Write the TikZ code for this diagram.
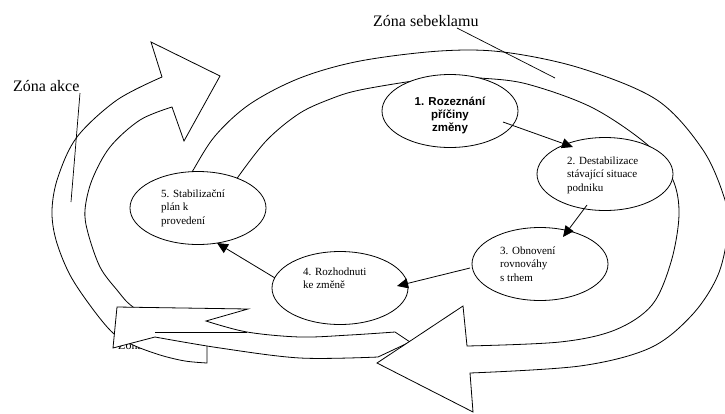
\documentclass[tikz,border=0pt]{standalone}
\usepackage{fontspec}
\setmainfont{Liberation Serif}
\newfontfamily\sansf{Liberation Sans}
\usetikzlibrary{shapes.geometric,arrows.meta}
\begin{document}
\begin{tikzpicture}[x=1pt,y=-1pt,
  band/.style={draw=black, line width=0.8pt, fill=white, line join=miter},
  thin/.style={draw=black, line width=0.8pt},
  stage/.style={ellipse, draw=black, line width=0.8pt, fill=white, minimum width=136pt, minimum height=73pt, inner sep=0pt},
  stagetxt/.style={font=\fontsize{11}{13.3}\selectfont, align=left, anchor=base west, inner sep=0pt},
  flow/.style={line width=0.8pt, -{Triangle[length=11pt,width=10pt]}},
  zone/.style={font=\fontsize{16}{19}\selectfont, anchor=base west, inner sep=0pt},
  leader/.style={line width=0.7pt}]
\useasboundingbox (0,0) rectangle (725,413);
\clip (0,0) rectangle (725,413);

% hidden label behind the arrows
\node[zone, font=\fontsize{12}{14}\selectfont] (zh) at (118,349.5) {Zóna};

% band A (Zona akce)
\path[band] plot[smooth, tension=0.55] coordinates {(207,363) (185,361) (160,355) (133,345) (113,333) (92,308) (70,275) (56,240) (52,210) (58,177) (77,137) (117,100) (162,77)}
  -- (151,42) -- (220,76) -- (184,141) -- (172,107)
  -- plot[smooth, tension=0.55] coordinates {(172,107) (140,120) (110,147) (92,180) (85,210) (88,233) (100,267) (117,290) (133,307) (170,330) (207,345)}
  -- cycle;

% band B (bottom-left arrow)
\path[band] (113,348) -- (117,307) -- (248,309) -- (206,321)
  -- plot[smooth, tension=0.55] coordinates {(206,321) (247,332) (300,337) (350,335) (395,332)}
  -- (410,342) -- (378,357)
  -- plot[smooth, tension=0.55] coordinates {(378,357) (300,358) (220,348) (155,337)}
  -- cycle;
\draw[thin] (155,332) -- (247,332);

% ring C (Zona sebeklamu)
\path[band] plot[smooth, tension=0.55] coordinates {(186,182) (192,172) (215,136) (250,104) (300,78) (360,61) (440,51) (503,52) (580,68) (657,100) (703,150) (725,200) (728,230) (718,275) (692,315) (650,348) (580,366) (470,373)}
  -- (473,412) -- (377,363) -- (463,306) -- (467,346)
  -- plot[smooth, tension=0.55] coordinates {(467,346) (560,342) (615,330) (652,305) (671,262) (679,215) (673,180) (650,147) (593,108) (527,84) (480,78) (450,77) (413,81) (360,90) (333,98) (300,113) (267,140) (238,177) (233,187)}
  -- cycle;

% zone labels
\node[zone] (zs) at (373,26) {Zóna sebeklamu};
\node[zone] (za) at (13,91) {Zóna akce};
\coordinate (zsEnd) at (555,78);
\coordinate (zaEnd) at (71,202);
\draw[leader] ([shift={(84,2)}]zs.base west) -- (zsEnd);
\draw[leader] ([shift={(67,2)}]za.base west) -- (zaEnd);

% stages
\node[stage] (e1) at (450,111) {};
\node[stage] (e2) at (605,174) {};
\node[stage] (e3) at (540,264) {};
\node[stage] (e4) at (340,288) {};
\node[stage] (e5) at (198,208) {};

% (base anchor of a multi-line node = baseline of its last line)
\node[font=\sansf\bfseries\fontsize{11.5}{13}\selectfont, align=center, anchor=base, inner sep=0pt] (t1) at (450,131) {1. Rozeznání\\příčiny\\změny};
\node[stagetxt] (t2) at (567,191.1) {2. Destabilizace\\stávající situace\\podniku};
\node[stagetxt] (t3) at (500,281.1) {3. Obnovení\\rovnováhy\\s trhem};
\node[stagetxt] (t4) at (303,288.8) {4. Rozhodnuti\\ke změně};
\node[stagetxt] (t5) at (161,224.1) {5. Stabilizační\\plán k\\provedení};

% flow arrows
\draw[flow] ([shift={(53,11)}]e1.center) -- ([shift={(-32,-27)}]e2.center);
\draw[flow] ([shift={(-18,31)}]e2.center) -- ([shift={(23,-27)}]e3.center);
\draw[flow] ([shift={(-70,4)}]e3.center) -- ([shift={(57,-2)}]e4.center);
\draw[flow] ([shift={(-65,-10)}]e4.center) -- ([shift={(19,35)}]e5.center);
\end{tikzpicture}
\end{document}
